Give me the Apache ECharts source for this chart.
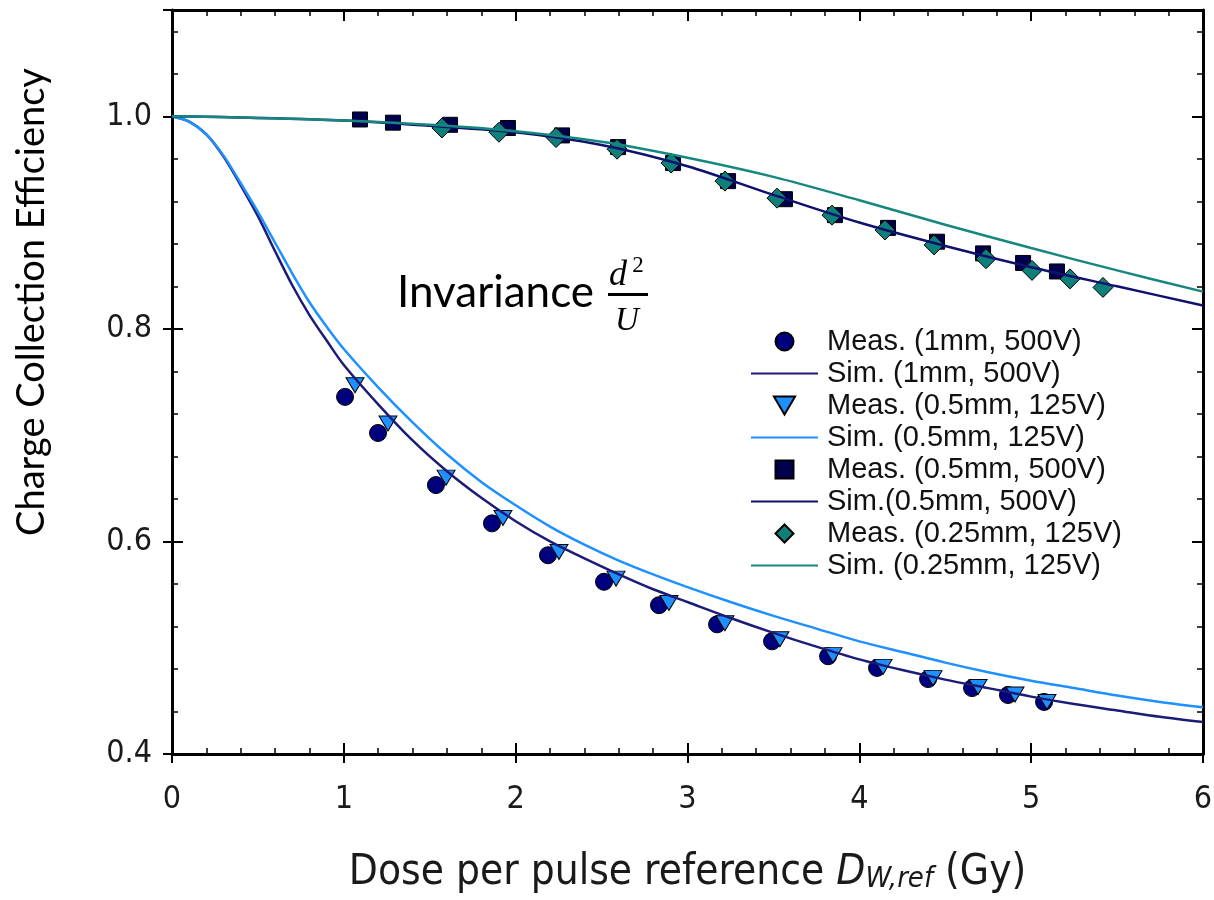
<!DOCTYPE html>
<html>
<head>
<meta charset="utf-8">
<script src="https://cdn.jsdelivr.net/npm/echarts@6/dist/echarts.min.js"></script>
<style>
  html, body { margin: 0; padding: 0; background: #fff; }
  #chart { width: 1214px; height: 900px; }
</style>
</head>
<body>
<div id="chart"></div>
<script>
// Measured charge collection efficiency, [dose per pulse (Gy), CCE]
const meas1mm500V = [
  [1.007, 0.736], [1.199, 0.702], [1.536, 0.653], [1.862, 0.617], [2.188, 0.587],
  [2.514, 0.562], [2.834, 0.540], [3.172, 0.522], [3.492, 0.506], [3.818, 0.492],
  [4.103, 0.481], [4.400, 0.4705], [4.656, 0.462], [4.865, 0.4555], [5.075, 0.449]
];
const meas05mm125V = [
  [1.065, 0.747], [1.257, 0.711], [1.595, 0.660], [1.926, 0.622], [2.252, 0.590],
  [2.584, 0.565], [2.892, 0.542], [3.218, 0.523], [3.538, 0.508], [3.847, 0.493],
  [4.138, 0.482], [4.429, 0.4714], [4.691, 0.463], [4.906, 0.456], [5.092, 0.449]
];
const meas05mm500V = [
  [1.094, 0.997], [1.286, 0.994], [1.618, 0.992], [1.955, 0.989], [2.270, 0.982],
  [2.596, 0.971], [2.916, 0.956], [3.236, 0.939], [3.567, 0.922], [3.858, 0.907],
  [4.167, 0.895], [4.452, 0.882], [4.720, 0.871], [4.953, 0.862], [5.150, 0.854]
];
const meas025mm125V = [
  [1.571, 0.989], [1.903, 0.985], [2.235, 0.980], [2.590, 0.969], [2.904, 0.956],
  [3.218, 0.939], [3.521, 0.923], [3.841, 0.907], [4.149, 0.893], [4.435, 0.879],
  [4.737, 0.866], [5.005, 0.855], [5.226, 0.847], [5.418, 0.839]
];

// Simulated curves
const simDoseLow = [0, 0.1, 0.2, 0.3, 0.4, 0.5, 0.6, 0.7, 0.8, 0.9, 1.0, 1.2, 1.4, 1.6, 1.8, 2.0,
  2.2, 2.4, 2.6, 2.8, 3.0, 3.25, 3.5, 3.75, 4.0, 4.25, 4.5, 4.75, 5.0, 5.25, 5.5, 5.75, 6.0];
const sim1mm500V = [1.000, 0.995, 0.983, 0.962, 0.935, 0.906, 0.873, 0.841, 0.813, 0.789, 0.766,
  0.729, 0.695, 0.666, 0.641, 0.619, 0.600, 0.584, 0.569, 0.555, 0.543, 0.528, 0.514, 0.501,
  0.489, 0.479, 0.470, 0.462, 0.454, 0.447, 0.441, 0.435, 0.430];
const sim05mm125V = [1.000, 0.995, 0.983, 0.963, 0.937, 0.910, 0.881, 0.852, 0.825, 0.802, 0.781,
  0.745, 0.712, 0.682, 0.656, 0.634, 0.614, 0.597, 0.582, 0.569, 0.557, 0.543, 0.530, 0.518,
  0.506, 0.496, 0.486, 0.477, 0.469, 0.462, 0.455, 0.449, 0.444];
const simDoseHigh = [0, 0.5, 1.0, 1.5, 2.0, 2.5, 3.0, 3.5, 4.0, 4.5, 5.0, 5.5, 6.0];
const sim05mm500V = [1.000, 0.9985, 0.996, 0.991, 0.985, 0.973, 0.953, 0.926, 0.900, 0.878, 0.858, 0.840, 0.822];
const sim025mm125V = [1.000, 0.9985, 0.996, 0.992, 0.986, 0.976, 0.961, 0.943, 0.921, 0.898, 0.876, 0.855, 0.835];

const seriesNames = [
  'Meas. (1mm, 500V)', 'Sim. (1mm, 500V)',
  'Meas. (0.5mm, 125V)', 'Sim. (0.5mm, 125V)',
  'Meas. (0.5mm, 500V)', 'Sim.(0.5mm, 500V)',
  'Meas. (0.25mm, 125V)', 'Sim. (0.25mm, 125V)'
];

const xMin = 0, xMax = 6, yMin = 0.4, yMax = 1.1;
const narrow = "'DejaVu Sans Condensed', 'Liberation Sans Narrow', 'Liberation Sans', Arial, sans-serif";
const plain = "'Liberation Sans', Arial, sans-serif";
const ink = '#000';

const zip = (xs, ys) => xs.map((x, i) => [x, ys[i]]);
const downTriangle = 'path://M0,0 L20,0 L10,17 Z';
const square = 'path://M0,0 L10,0 L10,10 L0,10 Z';
const diamond = 'path://M5,0 L10,5 L5,10 L0,5 Z';

const gridBox = { left: 172, right: 11, top: 10, bottom: 146, outerBoundsMode: 'none', containLabel: false };

function baseAxis(extra) {
  return Object.assign({
    type: 'value',
    splitLine: { show: false },
    axisLine: { show: false },
    axisTick: { show: false },
    axisLabel: { show: false },
    minorTick: { show: false }
  }, extra);
}

function simLine(name, xs, ys, color) {
  return {
    name, type: 'line', xAxisIndex: 0, yAxisIndex: 0,
    showSymbol: false, symbol: 'circle', symbolSize: 0, smooth: 0.3,
    lineStyle: { color, width: 2.5 },
    itemStyle: { color: 'rgba(0,0,0,0)', borderWidth: 0 },
    data: zip(xs, ys)
  };
}

const chart = echarts.init(document.getElementById('chart'), null, { renderer: 'canvas' });

chart.setOption({
  animation: false,
  backgroundColor: '#fff',
  grid: [
    Object.assign({}, gridBox),
    Object.assign({}, gridBox),
    Object.assign({}, gridBox)
  ],
  xAxis: [
    baseAxis({
      gridIndex: 0, position: 'bottom', min: xMin, max: xMax, interval: 1,
      axisLine: { show: true, onZero: false, lineStyle: { color: ink, width: 3 } },
      axisTick: { show: true, inside: true, length: 11, lineStyle: { color: ink, width: 2 } },
      minorTick: { show: true, splitNumber: 5, length: 6, lineStyle: { color: ink, width: 1.5 } },
      axisLabel: { show: true, margin: 30, fontSize: 32, fontFamily: narrow, color: '#1a1a1a' },
      name: 'Dose per pulse reference {it|D}{sub|W,ref} (Gy)',
      nameLocation: 'middle',
      nameGap: 98,
      nameTextStyle: {
        fontSize: 42, fontFamily: narrow, color: '#1a1a1a',
        rich: {
          it: { fontSize: 42, fontFamily: narrow, fontStyle: 'italic', color: '#1a1a1a' },
          sub: { fontSize: 29, fontFamily: narrow, fontStyle: 'italic', color: '#1a1a1a',
                 verticalAlign: 'bottom', lineHeight: 20 }
        }
      }
    }),
    baseAxis({
      gridIndex: 0, position: 'top', min: xMin, max: xMax, interval: 1,
      axisLine: { show: true, onZero: false, lineStyle: { color: ink, width: 3 } },
      axisTick: { show: true, inside: true, length: 11, lineStyle: { color: ink, width: 2 } },
      minorTick: { show: true, splitNumber: 5, length: 6, lineStyle: { color: ink, width: 1.5 } }
    }),
    baseAxis({
      gridIndex: 1, position: 'bottom', min: xMin, max: xMax, interval: 1,
      axisTick: { show: true, inside: false, length: 9, lineStyle: { color: ink, width: 2 } }
    }),
    baseAxis({ gridIndex: 2, position: 'bottom', min: xMin, max: xMax, show: false })
  ],
  yAxis: [
    baseAxis({
      gridIndex: 0, position: 'left', min: yMin, max: yMax, interval: 0.2,
      axisLine: { show: true, onZero: false, lineStyle: { color: ink, width: 3 } },
      axisTick: { show: true, inside: true, length: 11, lineStyle: { color: ink, width: 2 } },
      axisLabel: {
        show: true, margin: 20, fontSize: 32, fontFamily: narrow, color: '#1a1a1a',
        showMaxLabel: false,
        formatter: v => v.toFixed(1)
      }
    }),
    baseAxis({
      gridIndex: 0, position: 'right', min: yMin, max: yMax, interval: 0.2,
      axisLine: { show: true, onZero: false, lineStyle: { color: ink, width: 3 } },
      axisTick: { show: true, inside: true, length: 11, lineStyle: { color: ink, width: 2 } }
    }),
    baseAxis({
      gridIndex: 1, position: 'left', min: yMin, max: yMax, interval: 0.04,
      axisTick: { show: true, inside: true, length: 6, lineStyle: { color: ink, width: 1.5 } }
    }),
    baseAxis({
      gridIndex: 1, position: 'right', min: yMin, max: yMax, interval: 0.04,
      axisTick: { show: true, inside: true, length: 6, lineStyle: { color: ink, width: 1.5 } }
    }),
    baseAxis({
      gridIndex: 2, position: 'left', min: yMin, max: yMax, interval: 0.2,
      axisTick: { show: true, inside: false, length: 9, lineStyle: { color: ink, width: 2 } }
    })
  ],
  legend: {
    orient: 'vertical',
    left: 745,
    top: 322,
    itemWidth: 67,
    itemHeight: 18,
    itemGap: 3,
    selectedMode: false,
    symbolKeepAspect: true,
    textStyle: { fontSize: 29, fontFamily: plain, color: '#111', padding: [0, 0, 0, 4] },
    data: seriesNames
  },
  graphic: [
    {
      type: 'text', x: 32, y: 302, rotation: Math.PI / 2,
      style: { text: 'Charge Collection Efficiency', font: '38px Lato, "Open Sans", sans-serif',
               fill: '#000', align: 'center', verticalAlign: 'middle' }
    },
    {
      type: 'text', x: 397, y: 293,
      style: { text: 'Invariance', font: '44px Lato, "Open Sans", sans-serif',
               fill: '#000', align: 'left', verticalAlign: 'middle' }
    },
    {
      type: 'text', x: 618, y: 276,
      style: { text: 'd', font: 'italic 36px "Liberation Serif", "DejaVu Serif", serif',
               fill: '#000', align: 'center', verticalAlign: 'middle' }
    },
    {
      type: 'text', x: 638, y: 266,
      style: { text: '2', font: '23px "Liberation Serif", "DejaVu Serif", serif',
               fill: '#000', align: 'center', verticalAlign: 'middle' }
    },
    {
      type: 'rect', shape: { x: 608, y: 293, width: 40, height: 3 },
      style: { fill: '#000' }
    },
    {
      type: 'text', x: 627, y: 321,
      style: { text: 'U', font: 'italic 33px "Liberation Serif", "DejaVu Serif", serif',
               fill: '#000', align: 'center', verticalAlign: 'middle' }
    }
  ],
  series: [
    {
      name: seriesNames[0], type: 'scatter', xAxisIndex: 0, yAxisIndex: 0,
      symbol: 'circle', symbolSize: 17,
      itemStyle: { color: '#00007f', borderColor: '#000', borderWidth: 1, opacity: 1 },
      data: meas1mm500V
    },
    simLine(seriesNames[1], simDoseLow, sim1mm500V, '#1c1c78'),
    {
      name: seriesNames[2], type: 'scatter', xAxisIndex: 0, yAxisIndex: 0,
      symbol: downTriangle, symbolSize: [18, 15],
      itemStyle: { color: '#1e90ff', borderColor: '#000', borderWidth: 1, opacity: 1 },
      data: meas05mm125V
    },
    simLine(seriesNames[3], simDoseLow, sim05mm125V, '#1e90ff'),
    {
      name: seriesNames[4], type: 'scatter', xAxisIndex: 0, yAxisIndex: 0,
      symbol: square, symbolSize: 15,
      itemStyle: { color: '#00004d', borderColor: '#000', borderWidth: 1, opacity: 1 },
      data: meas05mm500V
    },
    simLine(seriesNames[5], simDoseHigh, sim05mm500V, '#10106e'),
    {
      name: seriesNames[6], type: 'scatter', xAxisIndex: 0, yAxisIndex: 0,
      symbol: diamond, symbolSize: 20,
      itemStyle: { color: '#0f7f7a', borderColor: '#000', borderWidth: 1, opacity: 1 },
      data: meas025mm125V
    },
    simLine(seriesNames[7], simDoseHigh, sim025mm125V, '#16877f')
  ]
});
</script>
</body>
</html>
